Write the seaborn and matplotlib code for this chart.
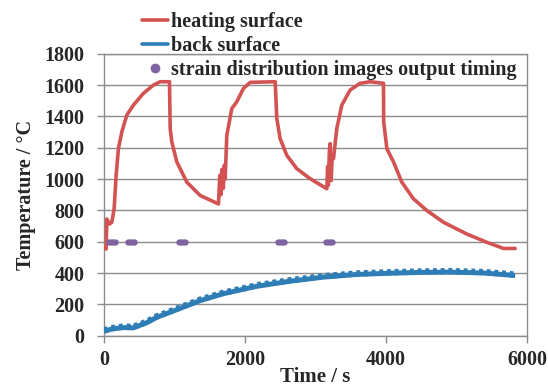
import numpy as np
import pandas as pd
import matplotlib
matplotlib.use("Agg")
import matplotlib.pyplot as plt
import seaborn as sns
from matplotlib.path import Path
from matplotlib.lines import Line2D

# ---- data ----
heat_t = [0, 28, 38, 76, 109, 142, 170, 203, 251, 322, 416, 558, 700, 795, 927,
          937, 960, 1031, 1173, 1362, 1622,
          1640, 1655, 1670, 1690, 1705, 1717, 1740, 1811, 1882, 1977, 2071, 2426,
          2449, 2496, 2591, 2733, 2922, 3159,
          3170, 3180, 3195, 3206, 3220, 3235, 3253, 3300, 3371, 3489, 3631, 3773, 3962,
          3965, 4010, 4104, 4222, 4387, 4577, 4813, 5144, 5428, 5664, 5830]
heat_T = [560, 553, 745, 713, 724, 809, 1023, 1194, 1301, 1408, 1472, 1547, 1600, 1621, 1621,
          1322, 1237, 1109, 980, 895, 841,
          1023, 900, 1060, 940, 1087, 1000, 1279, 1450, 1493, 1579, 1617, 1621,
          1387, 1258, 1151, 1066, 1002, 938,
          1080, 960, 1180, 1226, 990, 1150, 1130, 1322, 1472, 1568, 1611, 1621, 1611,
          1365, 1194, 1109, 980, 874, 799, 724, 649, 596, 557, 557]

back_t = [0, 100, 270, 410, 600, 750, 1030, 1360, 1690, 2170, 2640, 3110, 3580, 4060, 4500, 4910, 5400, 5830]
back_T = [28, 42, 52, 50, 82, 118, 166, 224, 268, 316, 348, 374, 391, 399, 404, 406, 400, 384]

strain_t = [110, 380, 1110, 2510, 3190]
strain_T = [600, 600, 600, 600, 600]

x_ticks = [0, 2000, 4000, 6000]
y_ticks = [0, 200, 400, 600, 800, 1000, 1200, 1400, 1600, 1800]

red = "#D35352"
blue = "#2E7DB6"
purple = "#8064A2"
grid_c = "#8C8C8C"

sns.set_style("white")
plt.rcParams["font.family"] = ["Liberation Serif", "DejaVu Serif"]
plt.rcParams["font.weight"] = "bold"

fig = plt.figure(figsize=(5.48, 3.89), dpi=100)
ax = fig.add_axes([0.190, 0.137, 0.772, 0.725])

heat = pd.DataFrame({"t": heat_t, "T": heat_T})
back = pd.DataFrame({"t": back_t, "T": back_T})
strain = pd.DataFrame({"t": strain_t, "T": strain_T})

# back surface: thick line with a serrated (dotted) overlay
sns.lineplot(data=back, x="t", y="T", ax=ax, color=blue, lw=3.6, sort=False,
             solid_capstyle="butt", zorder=3)
ax.plot(back["t"], back["T"] + 6, color=blue, lw=4.6, ls=(0, (0.6, 0.6)), zorder=3)
sns.lineplot(data=heat, x="t", y="T", ax=ax, color=red, lw=2.6, sort=False, zorder=4)

# rounded-rectangle marker
th = np.linspace(-np.pi / 2, np.pi / 2, 10)
right = np.column_stack([0.5 + 0.5 * np.cos(th), 0.5 * np.sin(th)])
left = np.column_stack([-0.5 - 0.5 * np.cos(th), -0.5 * np.sin(th)])
verts = np.vstack([right, left, right[:1]])
stadium = Path(verts, closed=True)
sns.scatterplot(data=strain, x="t", y="T", ax=ax, color=purple, marker=stadium,
                s=80, linewidth=0, zorder=5)

ax.set_xlim(0, 6000)
ax.set_ylim(0, 1800)
ax.set_xticks(x_ticks)
ax.set_yticks(y_ticks)
ax.yaxis.grid(True, color=grid_c, lw=1.0)
ax.xaxis.grid(False)
for s in ax.spines.values():
    s.set_color(grid_c)
    s.set_linewidth(1.0)
ax.tick_params(axis="both", labelsize=14.5, length=5, width=1, color=grid_c, direction="out",
               bottom=True, left=True)
ax.tick_params(axis="y", pad=9)
ax.tick_params(axis="x", pad=5)
for lab in ax.get_xticklabels() + ax.get_yticklabels():
    lab.set_fontweight("bold")
ax.set_xlabel("Time / s", fontsize=15, fontweight="bold", labelpad=-2)
ax.set_ylabel("Temperature / °C", fontsize=14.5, fontweight="bold", labelpad=6)

handles = [Line2D([], [], color=red, lw=2.6),
           Line2D([], [], color=blue, lw=2.6),
           Line2D([], [], color=purple, marker="o", ls="none", markersize=6)]
labels = ["heating surface", "back surface", "strain distribution images output timing"]
leg = fig.legend(handles, labels, loc="upper left", bbox_to_anchor=(0.245, 0.99),
                 frameon=False, prop={"family": "Liberation Serif", "weight": "bold", "size": 14.5},
                 handlelength=1.3, handletextpad=0.1, labelspacing=0.2, borderaxespad=0.0)
for txt in leg.get_texts():
    txt.set_fontweight("bold")

fig.savefig("out.png", dpi=100)
